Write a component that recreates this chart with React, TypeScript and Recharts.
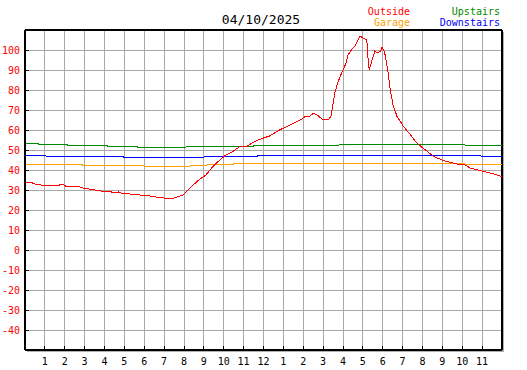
import { LineChart, Line, XAxis, YAxis, CartesianGrid, ReferenceLine } from 'recharts';

const chartTitle = '04/10/2025';

const hourTicks = [1, 2, 3, 4, 5, 6, 7, 8, 9, 10, 11, 12, 13, 14, 15, 16, 17, 18, 19, 20, 21, 22, 23];
const tempTicks = [-40, -30, -20, -10, 0, 10, 20, 30, 40, 50, 60, 70, 80, 90, 100];

const outsideHours = [
  0, 0.35, 0.4, 0.6, 0.9, 1.2, 1.35, 1.5, 1.7, 1.85, 2.0, 2.1, 2.35, 2.5, 2.7, 2.9, 3.2, 3.5, 3.8, 4.2,
  4.5, 4.7, 4.9, 5.3, 5.8, 6.3, 6.6, 7.0, 7.5, 7.7, 7.95, 8.3, 8.7, 9.1, 9.45, 9.8, 10.1, 10.45, 10.8, 11.2,
  11.45, 11.8, 12.3, 12.8, 13.35, 13.85, 14.1, 14.3, 14.5, 14.7, 14.95, 15.3, 15.4, 15.5, 15.6, 15.75, 15.95, 16.15, 16.25, 16.45,
  16.6, 16.75, 16.85, 17.0, 17.2, 17.25, 17.32, 17.45, 17.6, 17.75, 17.9, 17.97, 18.1, 18.25, 18.38, 18.52, 18.72, 19.05, 19.4, 19.73,
  20.15, 20.57, 21.0, 21.24, 21.74, 22.16, 22.4, 22.8, 23.1, 23.6, 24,
];
const outsideTemps = [
  34, 34, 33.3, 32.8, 32.3, 32.2, 32.5, 32, 32.3, 33, 32.3, 31.6, 31.5, 32, 31.8, 31, 30.5, 30, 29.5, 29.2,
  28.8, 29, 28.3, 28, 27.5, 27, 26.5, 26, 26, 26.7, 27.5, 31, 34.7, 37.5, 41.7, 45, 47.5, 49.2, 51.7, 52,
  53.7, 55.3, 57, 60, 62.5, 65, 66.7, 66.8, 68.3, 67.5, 65.5, 65.5, 67, 73, 79, 84, 89, 93.3, 97.5, 100.5,
  102, 105, 107, 106, 105, 97, 90, 94.5, 99.5, 98.5, 99.5, 101.5, 98.5, 90, 80, 72.5, 66.7, 61.7, 57.5, 53.3,
  50, 46.7, 45, 44.2, 43, 42.5, 41, 40, 39.2, 38, 36.7,
];

const garageHours = [0, 2.85, 2.9, 6.0, 6.05, 8.3, 8.35, 9.15, 9.2, 10.5, 10.55, 22.1, 22.15, 24];
const garageTemps = [43, 43, 42.5, 42.5, 41.8, 41.8, 42.5, 42.5, 43, 43, 43.5, 43.5, 42.8, 42.8];

const upstairsHours = [0, 0.65, 0.7, 2.1, 2.15, 4.1, 4.15, 5.6, 5.65, 8.1, 8.15, 11.5, 11.55, 15.8, 15.85, 22.1, 22.15, 24];
const upstairsTemps = [53.3, 53.3, 52.8, 52.8, 52.3, 52.3, 52, 52, 51.5, 51.5, 52, 52, 52.5, 52.5, 53, 53, 52.3, 52.3];

const downstairsHours = [0, 1.0, 1.05, 4.9, 4.95, 9.0, 9.05, 11.7, 11.75, 22.9, 22.95, 24];
const downstairsTemps = [47.5, 47.5, 47, 47, 46.5, 46.5, 47, 47, 47.5, 47.5, 47, 47];

const toPoints = (hours: number[], temps: number[]) => hours.map((h, i) => ({ h, t: temps[i] }));

const outside = toPoints(outsideHours, outsideTemps);
const garage = toPoints(garageHours, garageTemps);
const upstairs = toPoints(upstairsHours, upstairsTemps);
const downstairs = toPoints(downstairsHours, downstairsTemps);

const FONT = '"DejaVu Sans Mono", monospace';

function HourTick(props: any) {
  const { x, y, payload } = props;
  const label = payload.value % 12 === 0 ? 12 : payload.value % 12;
  return (
    <g>
      <line x1={x} x2={x} y1={y - 4} y2={y} stroke="#000" />
      <text x={x} y={y + 15} textAnchor="middle" fontSize={10} fontFamily={FONT} fill="#000">
        {label}
      </text>
    </g>
  );
}

function TempTick(props: any) {
  const { x, y, payload } = props;
  return (
    <g>
      <line x1={x} x2={x + 4} y1={y} y2={y} stroke="#000" />
      <text x={x - 5} y={y + 4} textAnchor="end" fontSize={10} fontFamily={FONT} fill="#ff0000">
        {payload.value}
      </text>
    </g>
  );
}

export default function App() {
  return (
    <div style={{ position: 'absolute', left: 0, top: 0, width: 527, height: 370, background: '#fff' }}>
      <div
        style={{
          position: 'absolute',
          left: 27,
          top: 32,
          width: 477,
          height: 320,
          borderRight: '2px solid #b0b0b0',
          borderBottom: '2px solid #b0b0b0',
          boxSizing: 'border-box',
        }}
      />
      <LineChart
        width={527}
        height={370}
        margin={{ top: 30, right: 25, left: 0, bottom: 0 }}
        style={{ position: 'absolute', left: 0, top: 0, shapeRendering: 'crispEdges' }}
      >
        <CartesianGrid stroke="#a8a8a8" strokeWidth={1} />
        <XAxis
          type="number"
          dataKey="h"
          domain={[0, 24]}
          ticks={hourTicks}
          interval={0}
          allowDataOverflow
          height={20}
          tickSize={0}
          tickMargin={0}
          tick={<HourTick />}
          axisLine={{ stroke: '#000', strokeWidth: 2 }}
        />
        <YAxis
          type="number"
          domain={[-50, 110]}
          ticks={tempTicks}
          interval={0}
          allowDataOverflow
          width={25}
          tickSize={0}
          tickMargin={0}
          tick={<TempTick />}
          axisLine={{ stroke: '#000', strokeWidth: 2 }}
        />
        <ReferenceLine y={110} stroke="#000" strokeWidth={2} />
        <ReferenceLine x={24} stroke="#000" strokeWidth={2} />
        <Line data={garage} dataKey="t" stroke="#ffa000" strokeWidth={1} dot={false} isAnimationActive={false} />
        <Line data={upstairs} dataKey="t" stroke="#008800" strokeWidth={1} dot={false} isAnimationActive={false} />
        <Line data={downstairs} dataKey="t" stroke="#0000ff" strokeWidth={1} dot={false} isAnimationActive={false} />
        <Line data={outside} dataKey="t" stroke="#ff0000" strokeWidth={1} dot={false} isAnimationActive={false} />
      </LineChart>
      <svg width={527} height={30} style={{ position: 'absolute', left: 0, top: 0 }}>
        <text x={261} y={24} textAnchor="middle" fontSize={13} fontFamily={FONT} fill="#000">
          {chartTitle}
        </text>
        <text x={410} y={15} textAnchor="end" fontSize={10} fontFamily={FONT} fill="#ff0000">
          Outside
        </text>
        <text x={410} y={26} textAnchor="end" fontSize={10} fontFamily={FONT} fill="#ffa000">
          Garage
        </text>
        <text x={500} y={15} textAnchor="end" fontSize={10} fontFamily={FONT} fill="#008800">
          Upstairs
        </text>
        <text x={500} y={26} textAnchor="end" fontSize={10} fontFamily={FONT} fill="#0000ff">
          Downstairs
        </text>
      </svg>
    </div>
  );
}
